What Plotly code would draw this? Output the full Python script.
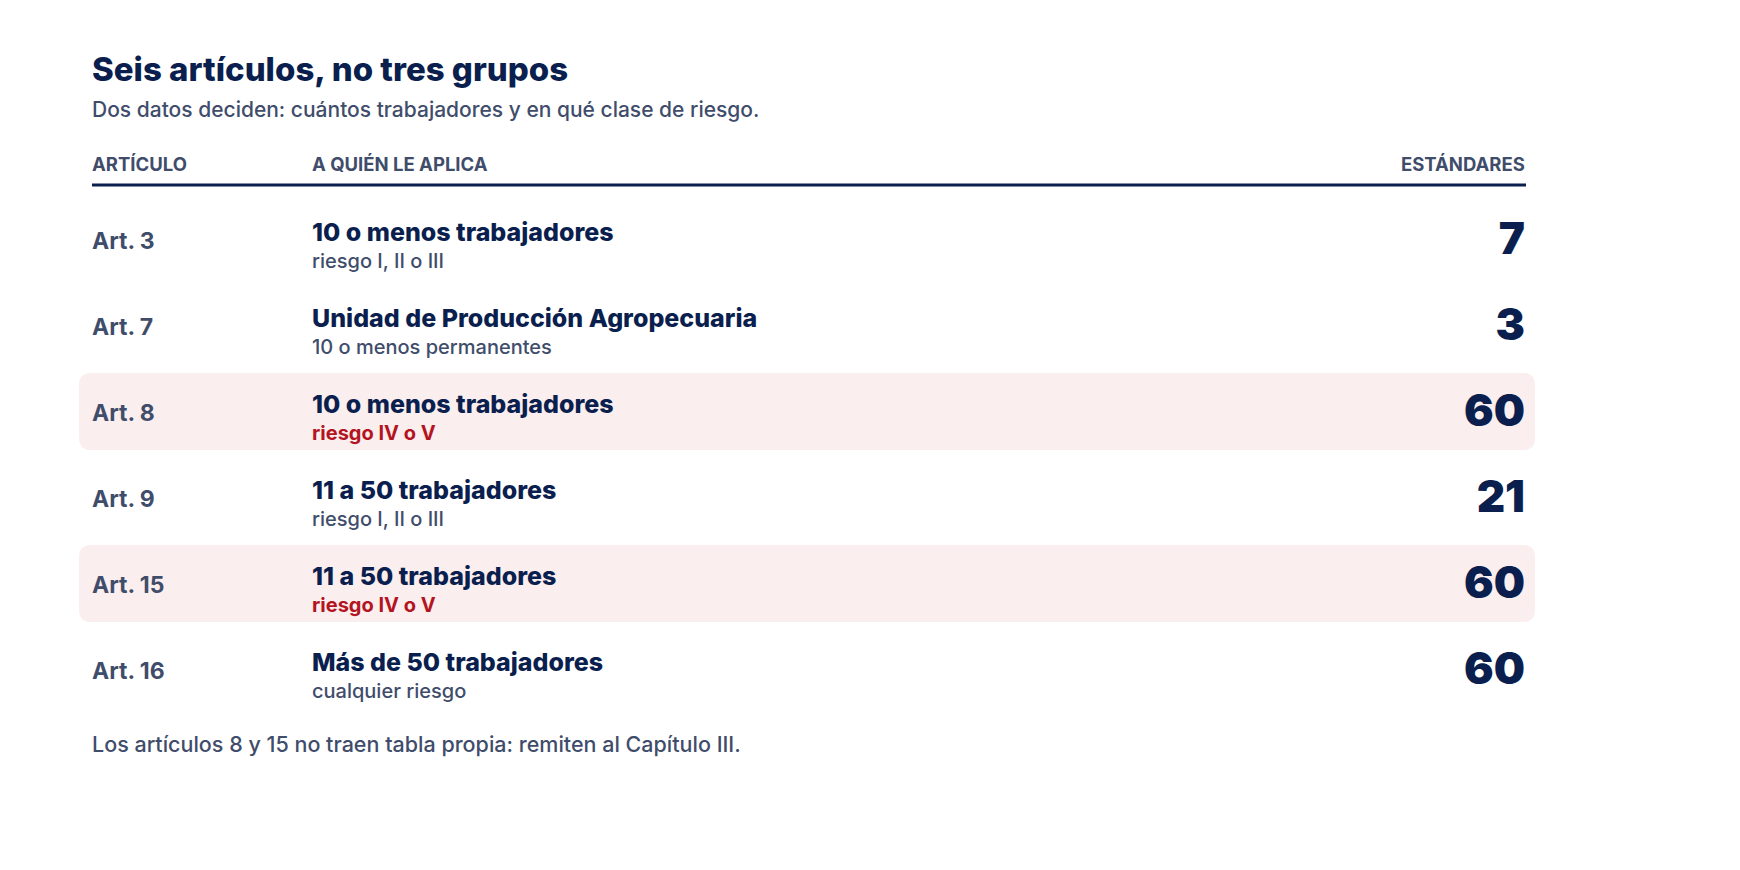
import plotly.graph_objects as go

articulos = ["Art. 3", "Art. 7", "Art. 8", "Art. 9", "Art. 15", "Art. 16"]
aplica = ["10 o menos trabajadores", "Unidad de Producción Agropecuaria",
          "10 o menos trabajadores", "11 a 50 trabajadores",
          "11 a 50 trabajadores", "Más de 50 trabajadores"]
detalle = ["riesgo I, II o III", "10 o menos permanentes", "riesgo IV o V",
           "riesgo I, II o III", "riesgo IV o V", "cualquier riesgo"]
estandares = [7, 3, 60, 21, 60, 60]
resaltado = [False, False, True, False, True, False]

NAVY = "#0b1f4f"
GREY = "#3f4d6b"
RED = "#b3141f"
PINK = "#fbeeee"
FONT = "Inter"

W, H = 1740, 870
X0, X1, XR = 84, 304, 1517
ROW0, STEP = 235, 86
ys = [ROW0 + i * STEP for i in range(len(articulos))]

fig = go.Figure()

# highlighted rows as rounded rectangles
for y, hi in zip(ys, resaltado):
    if not hi:
        continue
    a, b, t, btm, r = 71, 1527, y - 42, y + 35, 12
    path = (f"M{a+r},{t} L{b-r},{t} Q{b},{t} {b},{t+r} L{b},{btm-r} Q{b},{btm} {b-r},{btm} "
            f"L{a+r},{btm} Q{a},{btm} {a},{btm-r} L{a},{t+r} Q{a},{t} {a+r},{t} Z")
    fig.add_shape(type="path", path=path, xref="x", yref="y",
                  fillcolor=PINK, line_width=0, layer="below")

fig.add_trace(go.Scatter(x=[X0] * len(ys), y=ys, text=articulos, mode="text",
                         textposition="middle right",
                         textfont=dict(family=FONT, size=23, color=GREY, weight=700)))
fig.add_trace(go.Scatter(x=[X1] * len(ys), y=[y - 8 for y in ys], text=aplica, mode="text",
                         textposition="middle right",
                         textfont=dict(family=FONT, size=25, color=NAVY, weight=800)))
fig.add_trace(go.Scatter(x=[X1] * len(ys), y=[y + 20 for y in ys], text=detalle, mode="text",
                         textposition="middle right",
                         textfont=dict(family=FONT, size=20,
                                       color=[RED if h else GREY for h in resaltado],
                                       weight=[700 if h else 500 for h in resaltado])))
fig.add_trace(go.Scatter(x=[XR] * len(ys), y=ys, text=[str(v) for v in estandares],
                         mode="text", textposition="middle left",
                         textfont=dict(family=FONT, size=44, color=NAVY, weight=900)))

# header rule
fig.add_shape(type="line", x0=X0, x1=XR + 1, y0=177, y1=177, xref="x", yref="y",
              line=dict(color=NAVY, width=3))

def txt(x, y, s, size, color, weight=400, anchor="left"):
    fig.add_annotation(x=x, y=y, xref="x", yref="y", text=s, showarrow=False,
                       xanchor=anchor, yanchor="middle",
                       font=dict(family=FONT, size=size, color=color, weight=weight))

txt(X0 - 2, 61, "Seis artículos, no tres grupos", 33, NAVY, 800)
txt(X0 - 2, 101, "Dos datos deciden: cuántos trabajadores y en qué clase de riesgo.", 21, GREY, 500)
txt(X0 - 2, 156, "ARTÍCULO", 18.5, GREY, 700)
txt(X1 - 2, 156, "A QUIÉN LE APLICA", 18.5, GREY, 700)
txt(XR + 2, 156, "ESTÁNDARES", 18.5, GREY, 700, "right")
txt(X0 - 2, 736, "Los artículos 8 y 15 no traen tabla propia: remiten al Capítulo III.", 21.5, GREY, 500)

fig.update_layout(
    width=W, height=H, margin=dict(l=0, r=0, t=0, b=0),
    paper_bgcolor="white", plot_bgcolor="white", showlegend=False,
    xaxis=dict(range=[0, W], visible=False, fixedrange=True),
    yaxis=dict(range=[H, 0], visible=False, fixedrange=True),
)

fig.write_html("out.html", config={"displayModeBar": False})
